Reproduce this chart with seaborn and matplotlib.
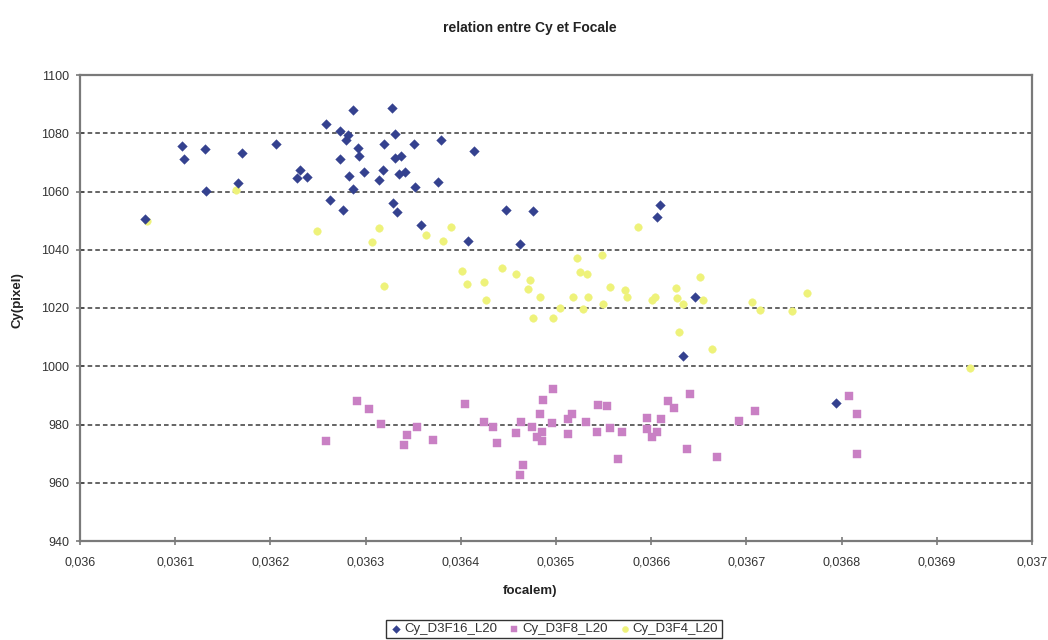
import matplotlib
matplotlib.use("Agg")
import matplotlib.pyplot as plt
import seaborn as sns
import pandas as pd

# ---------------- data ----------------
f16_x = [0.0360683, 0.0361068, 0.0361096, 0.0361316, 0.0361327, 0.0361699, 0.0361663,
         0.0362056, 0.0362581, 0.0362734, 0.0362812, 0.0362794, 0.0362865, 0.0363281,
         0.0363312, 0.0363193, 0.0363512, 0.0362923, 0.0362934, 0.0362734, 0.0363309,
         0.0363369, 0.0362311, 0.0362279, 0.0362381, 0.0362983, 0.0363180, 0.0363138,
         0.0363354, 0.0363414, 0.0362822, 0.0363519, 0.0362865, 0.0362626, 0.0362759,
         0.0363284, 0.0363333, 0.0363582, 0.0363795, 0.0364139, 0.0363757, 0.0364472,
         0.0364762, 0.0364076, 0.0364622, 0.0366092, 0.0366064, 0.0366457, 0.0366337,
         0.0367941]
f16_y = [1050.4, 1075.6, 1071.3, 1074.5, 1060.2, 1073.2, 1062.8,
         1076.3, 1083.1, 1080.9, 1079.4, 1077.7, 1088.1, 1088.7,
         1079.8, 1076.2, 1076.2, 1075.0, 1072.2, 1071.2, 1071.5,
         1072.2, 1067.4, 1064.7, 1065.0, 1066.8, 1067.4, 1063.9,
         1066.0, 1066.8, 1065.2, 1061.5, 1060.8, 1057.1, 1053.7,
         1056.0, 1052.8, 1048.6, 1077.7, 1073.8, 1063.2, 1053.7,
         1053.3, 1043.1, 1042.1, 1055.2, 1051.2, 1023.9, 1003.4,
         987.4]

f8_x = [0.0362584, 0.0362906, 0.0363036, 0.0363159, 0.0363438, 0.0363537, 0.0363403,
        0.0363711, 0.0364044, 0.0364247, 0.0364341, 0.0364377, 0.0364577, 0.0364629,
        0.0364745, 0.0364657, 0.0364622, 0.0364832, 0.0364860, 0.0364972, 0.0364961,
        0.0364853, 0.0364797, 0.0364850, 0.0365123, 0.0365171, 0.0365129, 0.0365315,
        0.0365444, 0.0365533, 0.0365434, 0.0365567, 0.0365648, 0.0365690, 0.0365953,
        0.0365959, 0.0366012, 0.0366058, 0.0366100, 0.0366180, 0.0366239, 0.0366408,
        0.0366379, 0.0366688, 0.0366925, 0.0367090, 0.0368081, 0.0368165, 0.0368159]
f8_y = [974.5, 987.9, 985.3, 980.2, 976.3, 979.3, 973.0,
        974.8, 987.1, 980.9, 979.1, 973.7, 977.1, 980.9,
        979.1, 966.2, 962.7, 983.6, 988.3, 992.3, 980.5,
        977.3, 975.6, 974.2, 981.9, 983.6, 976.7, 980.9,
        986.6, 986.2, 977.5, 978.7, 968.3, 977.3, 982.2,
        978.5, 975.6, 977.5, 981.9, 988.2, 985.7, 990.5,
        971.7, 968.8, 981.1, 984.5, 989.9, 983.6, 969.9]

f4_x = [0.0360700, 0.0361639, 0.0362486, 0.0363144, 0.0363070, 0.0363631, 0.0363897,
        0.0363816, 0.0365865, 0.0365217, 0.0365486, 0.0366513, 0.0365567, 0.0365725,
        0.0365743, 0.0366005, 0.0366040, 0.0366261, 0.0366268, 0.0366337, 0.0366547,
        0.0365490, 0.0367056, 0.0367143, 0.0367476, 0.0367633, 0.0366295, 0.0366636,
        0.0369349, 0.0364009, 0.0364430, 0.0364577, 0.0364062, 0.0364247, 0.0364727,
        0.0364709, 0.0364265, 0.0364832, 0.0365252, 0.0365322, 0.0365182, 0.0365339,
        0.0365042, 0.0365287, 0.0364762, 0.0364972, 0.0363197]
f4_y = [1050.0, 1060.5, 1046.6, 1047.4, 1042.5, 1044.9, 1047.8,
        1043.1, 1047.8, 1037.3, 1038.3, 1030.8, 1027.2, 1026.2,
        1023.7, 1022.8, 1023.9, 1026.7, 1023.4, 1021.4, 1022.6,
        1021.4, 1021.9, 1019.4, 1019.1, 1025.1, 1011.6, 1006.0,
        999.4, 1032.8, 1033.9, 1031.6, 1028.2, 1028.9, 1029.7,
        1026.6, 1022.8, 1023.7, 1032.5, 1031.6, 1023.9, 1023.9,
        1020.0, 1019.7, 1016.7, 1016.5, 1027.4]

series_names = ["Cy_D3F16_L20", "Cy_D3F8_L20", "Cy_D3F4_L20"]
x_ticks = [0.036, 0.0361, 0.0362, 0.0363, 0.0364, 0.0365, 0.0366, 0.0367, 0.0368, 0.0369, 0.037]
x_tick_labels = ["0,036", "0,0361", "0,0362", "0,0363", "0,0364", "0,0365",
                 "0,0366", "0,0367", "0,0368", "0,0369", "0,037"]
y_ticks = [940, 960, 980, 1000, 1020, 1040, 1060, 1080, 1100]
title = "relation entre Cy et Focale"
x_label = "focalem)"
y_label = "Cy(pixel)"

# ---------------- style ----------------
sns.set_theme(style="white")
plt.rcParams["font.family"] = ["Liberation Sans", "DejaVu Sans"]

colors = ["#34418f", "#c980c4", "#eef27a"]
markers = ["D", "s", "o"]
sizes = [24, 30, 30]

fig = plt.figure(figsize=(10.48, 6.4), dpi=100)
ax = fig.add_axes([80 / 1048, 1 - 541 / 640, (1032 - 80) / 1048, (541 - 75) / 640])

data_sets = [(f16_x, f16_y), (f8_x, f8_y), (f4_x, f4_y)]
order = [2, 1, 0]  # draw yellow first, blue on top
for i in order:
    xs, ys = data_sets[i]
    df = pd.DataFrame({"focale": xs, "Cy": ys})
    sns.scatterplot(data=df, x="focale", y="Cy", ax=ax, color=colors[i],
                    marker=markers[i], s=sizes[i], linewidth=0.3,
                    edgecolor=colors[i], label=series_names[i], zorder=3 + (2 - i))

ax.set_xlim(0.036, 0.037)
ax.set_ylim(940, 1100)
ax.set_xticks(x_ticks)
ax.set_xticklabels(x_tick_labels)
ax.set_yticks(y_ticks)
ax.set_yticklabels([str(v) for v in y_ticks])

for v in y_ticks[1:-1]:
    ax.axhline(v, color="#3a3a3a", linestyle=(0, (3, 2)), linewidth=1.1, zorder=1)

for sp in ax.spines.values():
    sp.set_color("#7a7a7a")
    sp.set_linewidth(1.6)
    sp.set_visible(True)

ax.tick_params(axis="both", which="major", direction="inout", length=6, width=1.2,
               color="#7a7a7a", labelsize=9, labelcolor="#333333", pad=5,
               bottom=True, left=True)
ax.tick_params(axis="x", pad=8)

ax.set_xlabel(x_label, fontsize=9.5, fontweight="bold", color="#222222")
ax.set_ylabel(y_label, fontsize=9.5, fontweight="bold", color="#222222")
ax.xaxis.set_label_coords((530 - 80) / (1032 - 80), -(585 - 541) / (541 - 75))
ax.yaxis.set_label_coords(-(80 - 24) / (1032 - 80), (541 - 300) / (541 - 75))

fig.text(530 / 1048, 1 - 28 / 640, title, ha="center", va="center",
         fontsize=10, fontweight="bold", color="#222222")

if ax.legend_:
    ax.legend_.remove()
h, l = ax.get_legend_handles_labels()
hl = dict(zip(l, h))
leg = fig.legend([hl[n] for n in series_names], series_names, loc="center",
                 bbox_to_anchor=(554 / 1048, 1 - 629 / 640), ncol=3, frameon=True,
                 fancybox=False, framealpha=1, edgecolor="#333333", fontsize=9.5,
                 handletextpad=0.1, columnspacing=0.8, handlelength=1.0,
                 borderpad=0.25, markerscale=0.8)
leg.get_frame().set_linewidth(1.0)
for t in leg.get_texts():
    t.set_color("#333333")

fig.savefig("out.png", dpi=100)
